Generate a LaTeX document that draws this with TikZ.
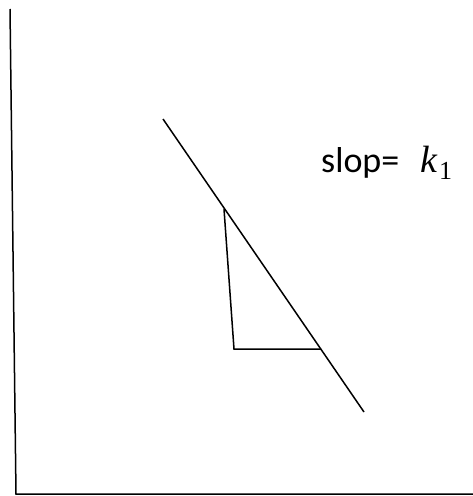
\documentclass[tikz,border=0pt]{standalone}
\usepackage{fontspec}
\setmainfont{Carlito}
\newfontfamily\kfont{Liberation Serif}
\begin{document}
\begin{tikzpicture}[x=1pt,y=-1pt,
  stroke/.style={line width=1.5pt,black},
  lbl/.style={inner sep=0pt,anchor=base west,font=\fontsize{36}{40}\selectfont}]
\useasboundingbox (0,0) rectangle (473,496);
% axes
\coordinate (ytop) at (10,9);
\coordinate (origin) at (16,494);
\coordinate (xend) at (473,494);
\draw[stroke] (ytop) -- (origin) -- (xend);
% line
\coordinate (la) at (163,119);
\coordinate (lb) at (364,412);
\draw[stroke] (la) -- (lb);
% triangle
\coordinate (ta) at (224,209);
\coordinate (tb) at (234,349);
\coordinate (tc) at (321,349);
\draw[stroke] (ta) -- (tb) -- (tc);
% label
\node[lbl] (slope) at (321,172) {slop=\hspace{21pt}{\kfont\itshape\fontsize{38}{40}\selectfont k}\kern2pt\raisebox{-7pt}{\kfont\fontsize{26}{28}\selectfont 1}};
\end{tikzpicture}
\end{document}
